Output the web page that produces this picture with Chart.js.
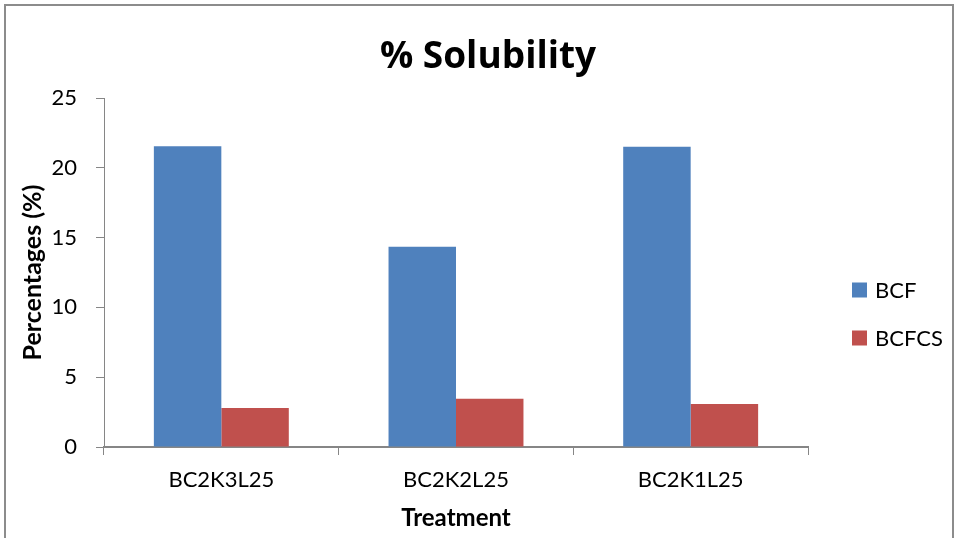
<!DOCTYPE html>
<html>
<head>
<meta charset="utf-8">
<script src="https://cdn.jsdelivr.net/npm/chart.js@4"></script>
<style>
  html, body { margin: 0; padding: 0; background: #fff; overflow: hidden; }
  #wrap { position: relative; width: 956px; height: 538px; }
  #frame {
    position: absolute; left: 4px; top: 4px; width: 946px; height: 600px;
    border: 2px solid #8c8c8c; pointer-events: none;
  }
</style>
</head>
<body>
<div id="wrap">
  <canvas id="solubilityChart" width="956" height="538"></canvas>
  <div id="frame"></div>
</div>
<script>
// ---------- chart data ---------- //
const treatments = ["BC2K3L25", "BC2K2L25", "BC2K1L25"];
const seriesNames = ["BCF", "BCFCS"];
const bcfValues = [21.55, 14.35, 21.5];
const bcfcsValues = [2.8, 3.45, 3.08];
const yTicks = [0, 5, 10, 15, 20, 25];

const seriesColors = ["#4F81BD", "#C0504D"];
const fontFamily = "Lato, 'Open Sans', sans-serif";

// simple legend drawn on the right, like the spreadsheet one
const sideLegend = {
  id: "sideLegend",
  afterDraw(chart) {
    const ctx = chart.ctx;
    const rows = [290, 338];
    ctx.save();
    ctx.font = "22px " + fontFamily;
    ctx.textBaseline = "middle";
    ctx.textAlign = "left";
    chart.data.datasets.forEach((ds, i) => {
      ctx.fillStyle = ds.backgroundColor;
      ctx.fillRect(852, rows[i] - 7.5, 15, 15);
      ctx.fillStyle = "#000";
      ctx.fillText(ds.label, 875, rows[i] + 1);
    });
    ctx.restore();
  },
};

const ctx = document.getElementById("solubilityChart");

new Chart(ctx, {
  type: "bar",
  data: {
    labels: treatments,
    datasets: [
      {
        label: seriesNames[0],
        data: bcfValues,
        backgroundColor: seriesColors[0],
        categoryPercentage: 0.575,
        barPercentage: 1,
      },
      {
        label: seriesNames[1],
        data: bcfcsValues,
        backgroundColor: seriesColors[1],
        categoryPercentage: 0.575,
        barPercentage: 1,
      },
    ],
  },
  options: {
    responsive: false,
    animation: false,
    layout: { padding: { left: 20, right: 0, top: 0, bottom: 0 } },
    plugins: {
      legend: { display: false },
      tooltip: { enabled: false },
      title: {
        display: true,
        text: "% Solubility",
        color: "#000",
        font: { family: "'Open Sans', Lato, sans-serif", size: 37, weight: "bold", lineHeight: 1.2 },
        padding: { top: 35, bottom: 18.6 },
      },
    },
    scales: {
      x: {
        grid: {
          drawOnChartArea: false,
          drawTicks: true,
          tickLength: 8,
          color: "#868686",
          offset: true,
        },
        border: { color: "#868686", width: 2 },
        ticks: {
          color: "#000",
          font: { family: fontFamily, size: 22 },
          padding: 12,
        },
        title: {
          display: true,
          text: "Treatment",
          color: "#000",
          font: { family: fontFamily, size: 24, weight: "bold", lineHeight: 1.2 },
          padding: { top: 0, bottom: 5 },
        },
        afterFit: (scale) => {
          scale.height = 91;
        },
      },
      y: {
        min: 0,
        max: 25,
        afterBuildTicks: (scale) => {
          scale.ticks = yTicks.map((v) => ({ value: v }));
        },
        grid: {
          drawOnChartArea: false,
          drawTicks: true,
          tickLength: 8,
          color: "#868686",
        },
        border: { color: "#868686", width: 1 },
        ticks: {
          color: "#000",
          font: { family: fontFamily, size: 22 },
          padding: 19,
        },
        title: {
          display: true,
          text: "Percentages (%)",
          color: "#000",
          font: { family: fontFamily, size: 25, weight: "bold", lineHeight: 1 },
          padding: { top: 0, bottom: 0 },
        },
        afterFit: (scale) => {
          scale.width = 84;
        },
      },
      // empty axis on the right only keeps room for the legend
      side: {
        type: "linear",
        position: "right",
        display: true,
        grid: { display: false },
        border: { display: false },
        ticks: { display: false },
        afterFit: (scale) => {
          scale.width = 148;
        },
      },
    },
  },
  plugins: [sideLegend],
});
</script>
</body>
</html>
